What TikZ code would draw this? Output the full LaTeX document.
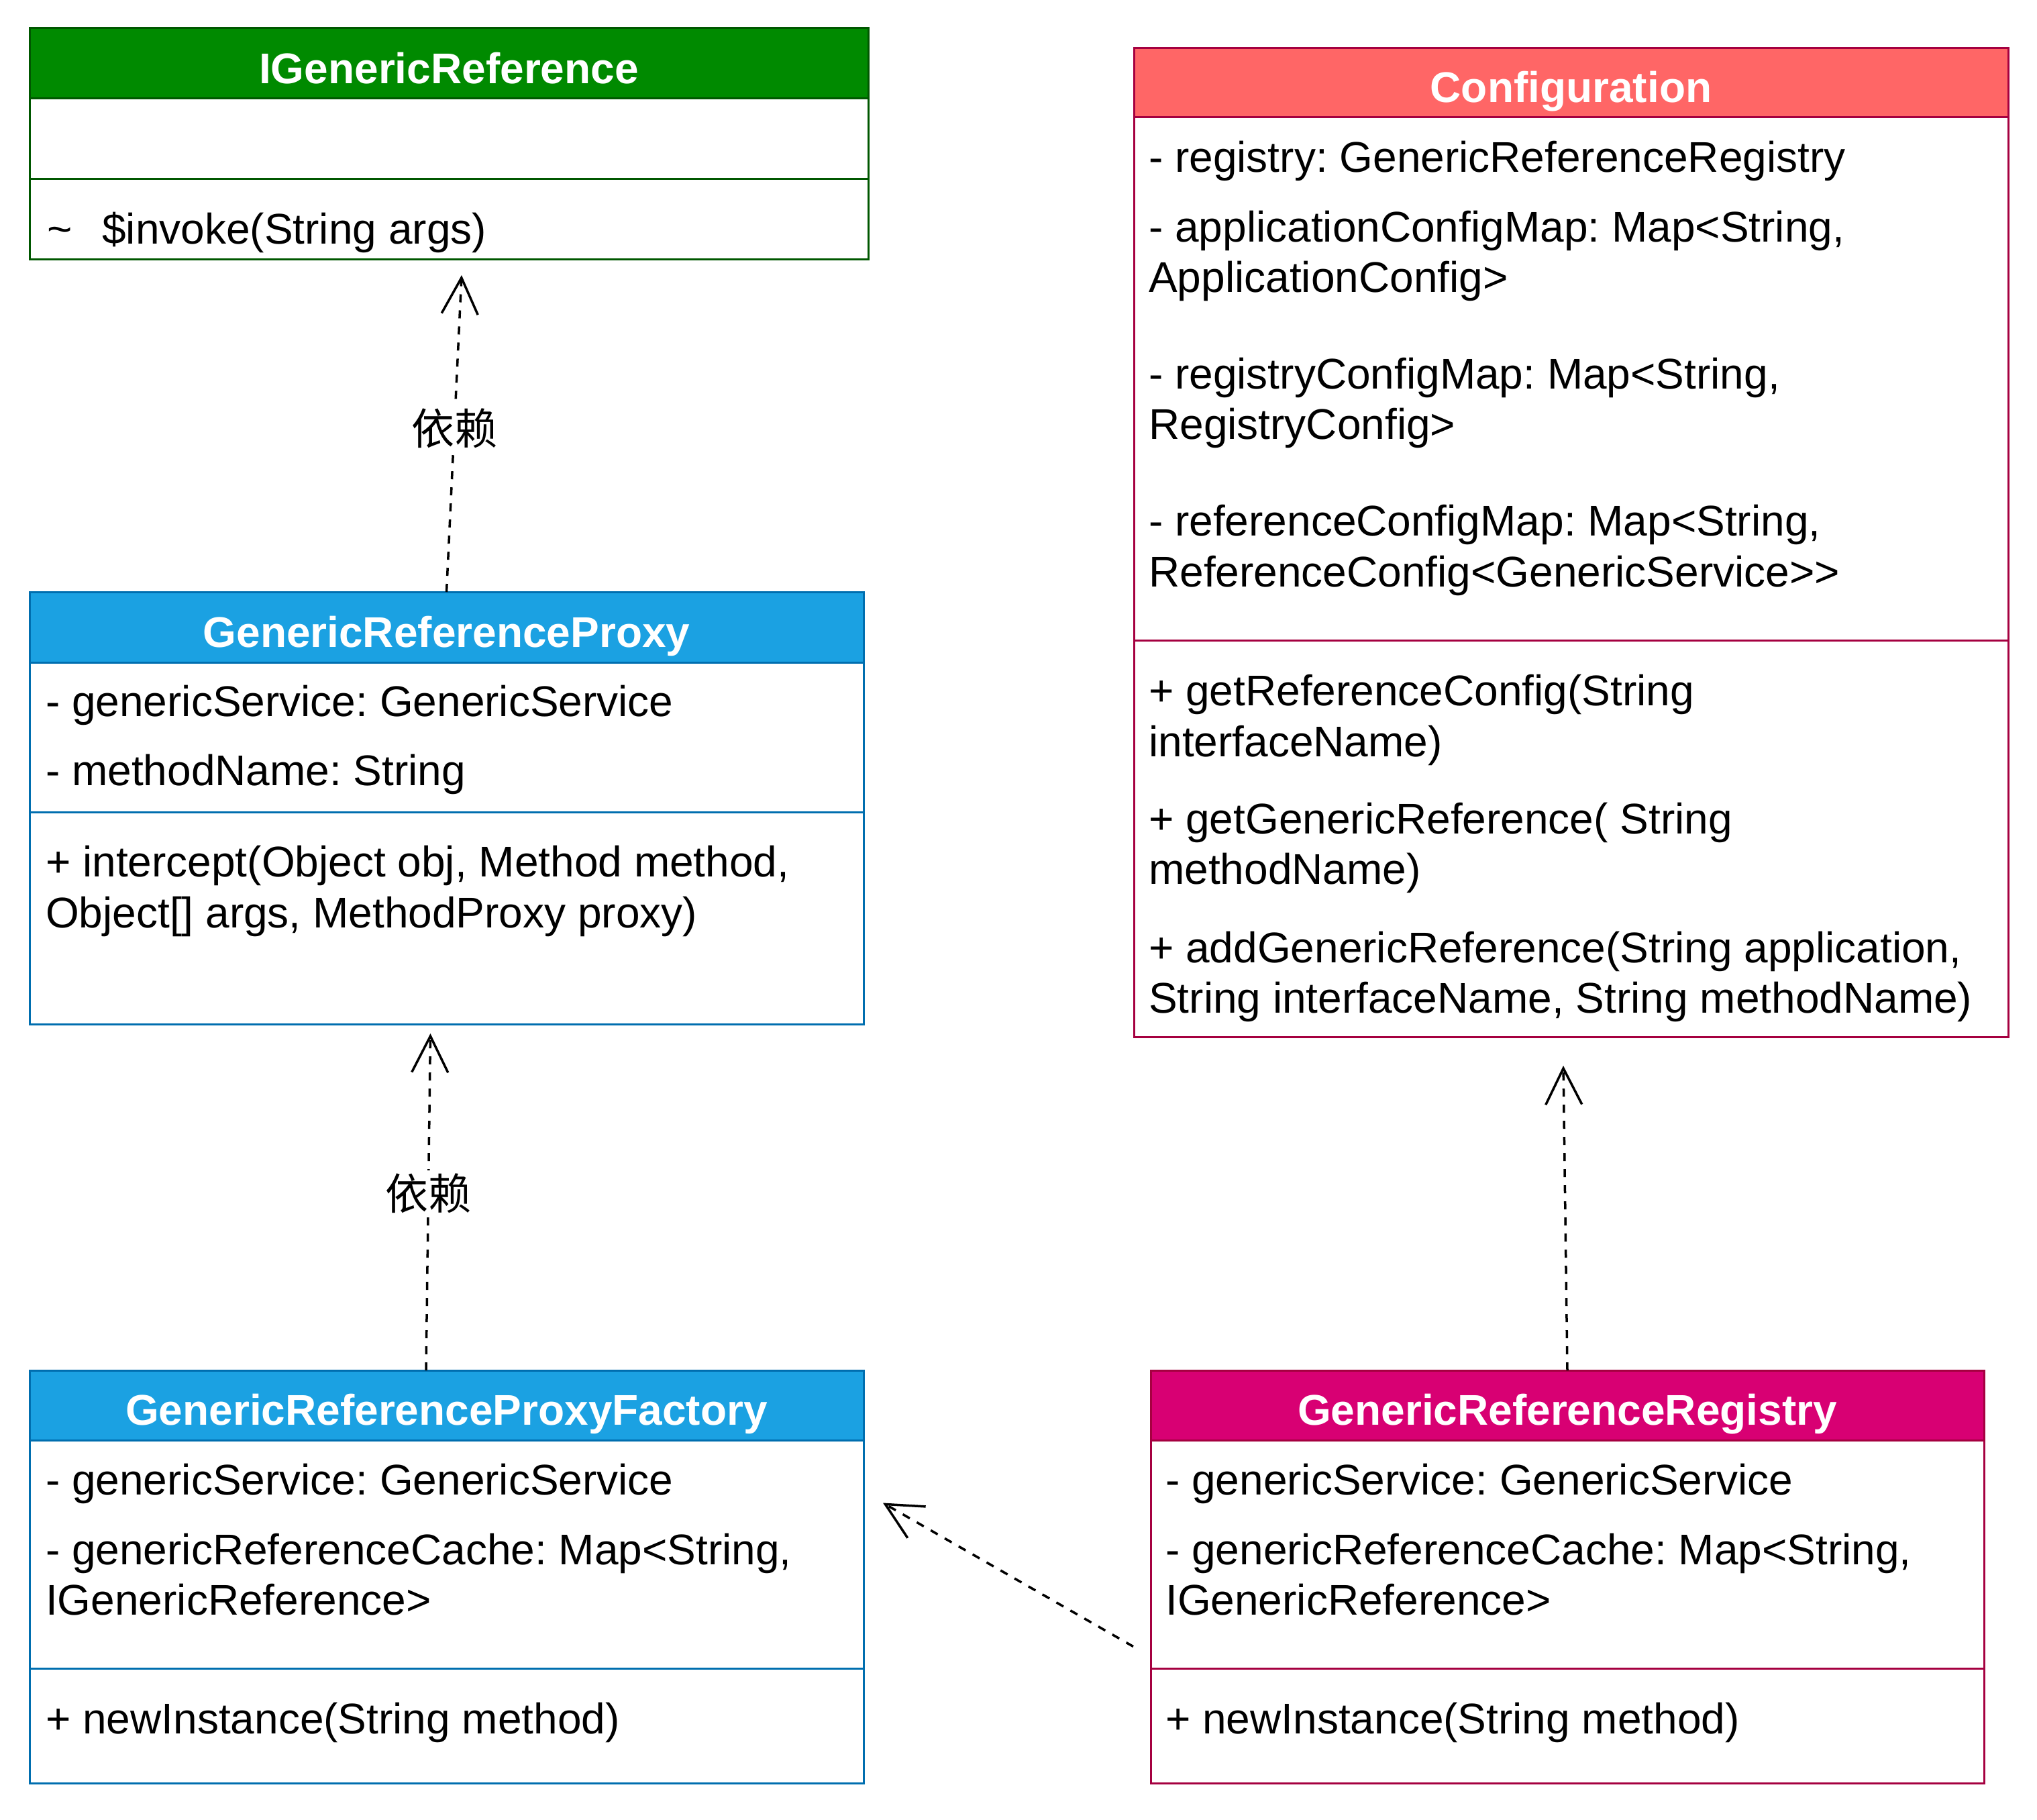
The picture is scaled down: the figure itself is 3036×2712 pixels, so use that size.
\documentclass[tikz,border=0pt]{standalone}
\usepackage{fontspec}
\setmainfont{Liberation Sans}
\newfontfamily\cjkfont{Noto Sans CJK SC}
\usetikzlibrary{arrows.meta,calc}
\frenchspacing

\definecolor{igrfill}{HTML}{008A00}
\definecolor{igrline}{HTML}{005700}
\definecolor{bluefill}{HTML}{1BA1E2}
\definecolor{blueline}{HTML}{006EAF}
\definecolor{cfgfill}{HTML}{FF6666}
\definecolor{magfill}{HTML}{D80073}
\definecolor{magline}{HTML}{A50040}

\begin{document}
\begin{tikzpicture}[x=1pt,y=-1pt,
  classbox/.style={draw, line width=3pt, fill=white, inner sep=0pt, outer sep=0pt, anchor=north west},
  classhead/.style={draw, line width=3pt, inner sep=0pt, outer sep=0pt, anchor=north west, minimum height=105pt},
  divider/.style={line width=3pt},
  title/.style={anchor=base, inner sep=0pt, text=white, font=\fontsize{64}{77}\selectfont\bfseries},
  member/.style={anchor=base west, inner sep=0pt, font=\fontsize{64}{77}\selectfont},
  dep/.style={draw=black, line width=3.5pt, dash pattern=on 12pt off 12pt,
    -{Straight Barb[length=54pt,width=54pt,line width=3.5pt]}},
  deplabel/.style={fill=white, inner sep=4pt, font=\cjkfont\fontsize{64}{64}\selectfont},
]
\path[use as bounding box, fill=white] (0,0) rectangle (3036,2712);

% ---------- IGenericReference ----------
\node[classbox, draw=igrline, minimum width=1250pt, minimum height=345pt] (igr) at (44,41) {};
\node[classhead, draw=igrline, fill=igrfill, minimum width=1250pt] (igr-head) at (44,41) {};
\draw[divider, igrline] (igr.west |- 0,266) -- (igr.east |- 0,266);
\node[title] (igr-title) at (igr.north |- 0,124) {IGenericReference};
\node[member] (igr-m1) at (70,363) {\textasciitilde{}\hspace{27pt} \$invoke(String args)};

% ---------- Configuration ----------
\node[classbox, draw=magline, minimum width=1303pt, minimum height=1474pt] (cfg) at (1690,71) {};
\node[classhead, draw=magline, fill=cfgfill, minimum width=1303pt, minimum height=103pt] (cfg-head) at (1690,71) {};
\draw[divider, magline] (cfg.west |- 0,954) -- (cfg.east |- 0,954);
\node[title] (cfg-title) at (cfg.north |- 0,152) {Configuration};
\node[member] (cfg-a1) at (1712,256) {- registry: GenericReferenceRegistry};
\node[member] (cfg-a2) at (1712,360) {- applicationConfigMap: Map<String,};
\node[member] (cfg-a3) at (1712,435) {ApplicationConfig>};
\node[member] (cfg-a4) at (1712,579) {- registryConfigMap: Map<String,};
\node[member] (cfg-a5) at (1712,654) {RegistryConfig>};
\node[member] (cfg-a6) at (1712,798) {- referenceConfigMap: Map<String,};
\node[member] (cfg-a7) at (1712,874) {ReferenceConfig<GenericService>\kern0pt>};
\node[member] (cfg-m1) at (1712,1051) {+ getReferenceConfig(String};
\node[member] (cfg-m2) at (1712,1127) {interfaceName)};
\node[member] (cfg-m3) at (1712,1242) {+ getGenericReference( String};
\node[member] (cfg-m4) at (1712,1317) {methodName)};
\node[member] (cfg-m5) at (1712,1434) {+ addGenericReference(String application,};
\node[member] (cfg-m6) at (1712,1509) {String interfaceName, String methodName)};

% ---------- GenericReferenceProxy ----------
\node[classbox, draw=blueline, minimum width=1243pt, minimum height=644pt] (proxy) at (44,882) {};
\node[classhead, draw=blueline, fill=bluefill, minimum width=1243pt] (proxy-head) at (44,882) {};
\draw[divider, blueline] (proxy.west |- 0,1210) -- (proxy.east |- 0,1210);
\node[title] (proxy-title) at (proxy.north |- 0,964) {GenericReferenceProxy};
\node[member] (proxy-a1) at (68,1067) {- genericService: GenericService};
\node[member] (proxy-a2) at (68,1170) {- methodName: String};
\node[member] (proxy-m1) at (68,1306) {+ intercept(Object obj, Method method,};
\node[member] (proxy-m2) at (68,1382) {Object[] args, MethodProxy proxy)};

% ---------- GenericReferenceProxyFactory ----------
\node[classbox, draw=blueline, minimum width=1243pt, minimum height=615pt] (fac) at (44,2042) {};
\node[classhead, draw=blueline, fill=bluefill, minimum width=1243pt, minimum height=104pt] (fac-head) at (44,2042) {};
\draw[divider, blueline] (fac.west |- 0,2486) -- (fac.east |- 0,2486);
\node[title] (fac-title) at (fac.north |- 0,2123) {GenericReferenceProxyFactory};
\node[member] (fac-a1) at (68,2227) {- genericService: GenericService};
\node[member] (fac-a2) at (68,2331) {- genericReferenceCache: Map<String,};
\node[member] (fac-a3) at (68,2406) {IGenericReference>};
\node[member] (fac-m1) at (68,2583) {+ newInstance(String method)};

% ---------- GenericReferenceRegistry ----------
\node[classbox, draw=magline, minimum width=1242pt, minimum height=615pt] (reg) at (1715,2042) {};
\node[classhead, draw=magline, fill=magfill, minimum width=1242pt, minimum height=104pt] (reg-head) at (1715,2042) {};
\draw[divider, magline] (reg.west |- 0,2486) -- (reg.east |- 0,2486);
\node[title] (reg-title) at (reg.north |- 0,2123) {GenericReferenceRegistry};
\node[member] (reg-a1) at (1737,2227) {- genericService: GenericService};
\node[member] (reg-a2) at (1737,2331) {- genericReferenceCache: Map<String,};
\node[member] (reg-a3) at (1737,2406) {IGenericReference>};
\node[member] (reg-m1) at (1737,2583) {+ newInstance(String method)};

% ---------- dependencies ----------
\coordinate (igr-in) at ($(igr.south)+(19,24)$);
\coordinate (fac-out) at ($(fac.north)+(-30.5,0)$);
\coordinate (proxy-in) at ($(proxy.south)+(-24,14)$);
\coordinate (cfg-in) at ($(cfg.south)+(-11.5,43)$);
\coordinate (reg-out) at ($(reg.west)+(-26,104)$);
\coordinate (fac-in) at ($(fac.east)+(29,-110)$);

\draw[dep] (proxy.north) -- node[deplabel, pos=0.517] (dep1-label) {依赖} (igr-in);
\draw[dep] (fac-out) -- node[deplabel, pos=0.526] (dep2-label) {依赖} (proxy-in);
\draw[dep] (reg.north) -- (cfg-in);
\draw[dep] (reg-out) -- (fac-in);
\end{tikzpicture}
\end{document}
